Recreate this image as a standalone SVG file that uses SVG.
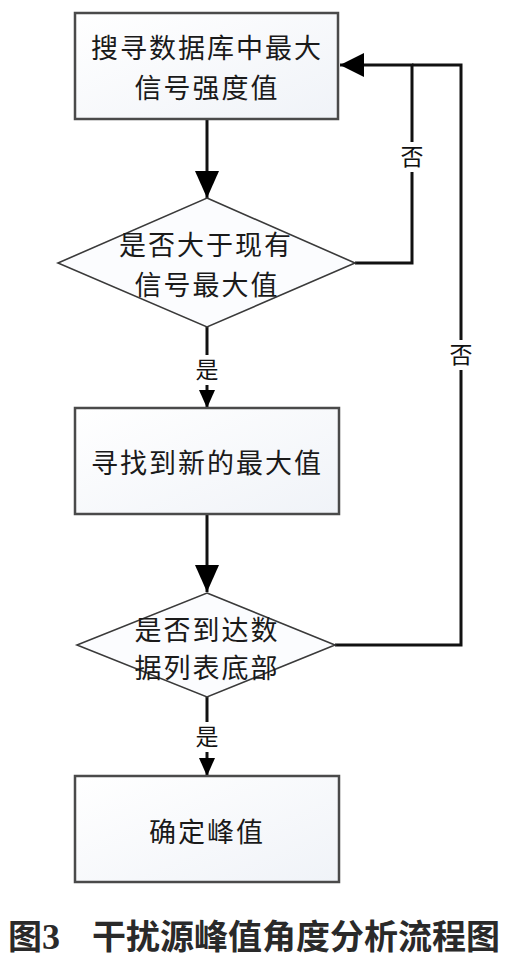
<svg xmlns="http://www.w3.org/2000/svg" width="529" height="972" viewBox="0 0 529 972">
<style>
.box{fill:url(#g);stroke:#4a4a4a;stroke-width:2.5}
.dia{fill:#fbfcfe;stroke:#3a3a3a;stroke-width:1.6}
.t{font-family:"Noto Sans CJK SC","Noto Sans",sans-serif;font-size:27px;fill:#1a1a1a;text-anchor:middle;letter-spacing:2px}
.lbl{font-family:"Noto Sans CJK SC","Noto Sans",sans-serif;font-size:23px;fill:#111;text-anchor:middle}
.ln{fill:none;stroke:#111;stroke-width:3}
.bg{fill:#fff}
.cap{font-family:"Noto Sans CJK SC","Noto Sans",sans-serif;font-size:34px;font-weight:bold;fill:#2a2a2a}
</style>
<defs>
<linearGradient id="g" x1="0" y1="0" x2="1" y2="1">
<stop offset="0" stop-color="#ffffff"/>
<stop offset="1" stop-color="#f0f3f8"/>
</linearGradient>
<marker id="big" markerUnits="userSpaceOnUse" markerWidth="27" markerHeight="24" refX="27" refY="12" orient="auto">
<path d="M0,0 L27,12 L0,24 z" fill="#000"/>
</marker>
<marker id="mid" markerUnits="userSpaceOnUse" markerWidth="24" markerHeight="24" refX="24" refY="12" orient="auto">
<path d="M0,0 L24,12 L0,24 z" fill="#000"/>
</marker>
<marker id="small" markerUnits="userSpaceOnUse" markerWidth="18" markerHeight="16" refX="18" refY="8" orient="auto">
<path d="M0,0 L18,8 L0,16 z" fill="#000"/>
</marker>
</defs>
<rect width="529" height="972" fill="#fff"/>

<g id="connectors">
<path class="ln" d="M207,120 L207,198" marker-end="url(#big)"/>
<path class="ln" d="M207,327 L207,408" marker-end="url(#small)"/>
<path class="ln" d="M207,514 L207,592" marker-end="url(#big)"/>
<path class="ln" d="M207,697 L207,776" marker-end="url(#small)"/>
<path class="ln" d="M355,263 L412,263 L412,65 L340,65" marker-end="url(#mid)"/>
<path class="ln" d="M335,645 L461,645 L461,65 L412,65"/>
<rect class="bg" x="195" y="355" width="24" height="30"/>
<text class="lbl" x="207" y="378">是</text>
<rect class="bg" x="195" y="722" width="24" height="30"/>
<text class="lbl" x="207" y="745">是</text>
<rect class="bg" x="400" y="142" width="24" height="30"/>
<text class="lbl" x="412" y="165">否</text>
<rect class="bg" x="449" y="340" width="24" height="30"/>
<text class="lbl" x="461" y="363">否</text>
</g>

<g id="n1">
<rect class="box" x="75" y="13" width="263" height="106"/>
<text class="t" x="207" y="58">搜寻数据库中最大</text>
<text class="t" x="207" y="98">信号强度值</text>
</g>
<g id="n2">
<polygon class="dia" points="207,198 355,263 207,327 58,263"/>
<text class="t" x="206" y="255">是否大于现有</text>
<text class="t" x="207" y="295">信号最大值</text>
</g>
<g id="n3">
<rect class="box" x="75" y="408" width="264" height="106"/>
<text class="t" x="207" y="473">寻找到新的最大值</text>
</g>
<g id="n4">
<polygon class="dia" points="207,593 335,645 207,697 77,645"/>
<text class="t" x="207" y="640">是否到达数</text>
<text class="t" x="207" y="678">据列表底部</text>
</g>
<g id="n5">
<rect class="box" x="75" y="776" width="264" height="106"/>
<text class="t" x="207" y="842">确定峰值</text>
</g>

<text class="cap" x="8" y="949">图<tspan font-family="'Liberation Serif',serif" font-size="36">3</tspan><tspan x="92">干扰源峰值角度分析流程图</tspan></text>
</svg>
